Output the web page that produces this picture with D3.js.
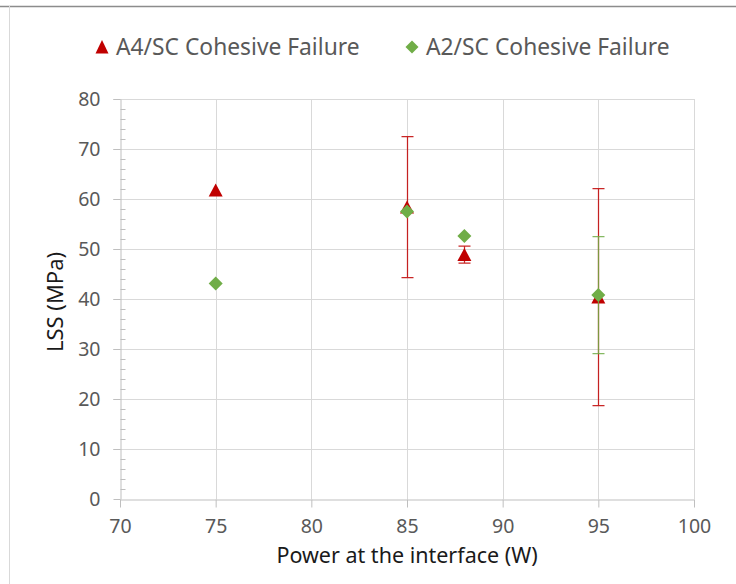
<!DOCTYPE html>
<html>
<head>
<meta charset="utf-8">
<script src="https://cdn.jsdelivr.net/npm/d3@7"></script>
<style>
  html, body { margin: 0; padding: 0; background: #fff; }
  svg { display: block; font-family: "Noto Sans", "Open Sans", sans-serif; }
</style>
</head>
<body>
<div id="chart"></div>
<script>
// ---- data ----
const powers = [75, 85, 88, 95];
const a4Mean = [61.8, 58.4, 48.9, 40.4];
const a4Err  = [0, 14.1, 1.7, 21.7];
const a2Mean = [43.1, 57.5, 52.6, 40.8];
const a2Err  = [0, 0, 0, 11.7];
const xTicks = [70, 75, 80, 85, 90, 95, 100];
const yTicks = [0, 10, 20, 30, 40, 50, 60, 70, 80];
const seriesNames = ["A4/SC Cohesive Failure", "A2/SC Cohesive Failure"];
const seriesColors = ["#c00000", "#70ad47"];

const width = 736, height = 584;
const margin = { left: 120, right: 42, top: 99, bottom: 85 };

const svg = d3.select("#chart").append("svg")
    .attr("width", width)
    .attr("height", height);

// chart frame (only top + left edges are in view)
svg.append("line").attr("x1", 0).attr("x2", width).attr("y1", 6.5).attr("y2", 6.5)
    .attr("stroke", "#8c8c8c").attr("stroke-width", 1.5);
svg.append("line").attr("x1", 9.5).attr("x2", 9.5).attr("y1", 6).attr("y2", height)
    .attr("stroke", "#d9d9d9");

const x = d3.scaleLinear().domain([70, 100]).range([margin.left, width - margin.right]);
const y = d3.scaleLinear().domain([0, 80]).range([height - margin.bottom, margin.top]);

// gridlines
const grid = svg.append("g").attr("stroke", "#d9d9d9").attr("stroke-width", 1);
grid.selectAll(".hg").data(yTicks.filter(d => d > 0)).enter().append("line")
    .attr("x1", x(70) - 7).attr("x2", x(100))
    .attr("y1", d => Math.round(y(d)) + 0.5).attr("y2", d => Math.round(y(d)) + 0.5);
grid.selectAll(".vg").data(xTicks.filter(d => d > 70)).enter().append("line")
    .attr("y1", y(80)).attr("y2", y(0))
    .attr("x1", d => Math.round(x(d)) + 0.5).attr("x2", d => Math.round(x(d)) + 0.5);

// axes
const axisColor = "#bfbfbf";
const xAxis = svg.append("g")
    .attr("transform", `translate(0,${Math.round(y(0)) + 0.5})`)
    .call(d3.axisBottom(x).tickValues(xTicks).tickSize(8).tickPadding(12).tickSizeOuter(0));
const yAxis = svg.append("g")
    .attr("transform", `translate(${Math.round(x(70)) + 0.5},0)`)
    .call(d3.axisLeft(y).tickValues(yTicks).tickSize(7).tickPadding(13).tickSizeOuter(0));
// minor y ticks, inside
svg.append("g").attr("transform", `translate(${Math.round(x(70)) + 0.5},0)`)
    .call(d3.axisRight(y).tickValues(d3.range(0, 81, 2).filter(d => d % 10 !== 0))
        .tickSize(5).tickFormat("").tickSizeOuter(0))
    .call(g => g.select(".domain").remove())
    .selectAll("line").attr("stroke", axisColor);

[xAxis, yAxis].forEach(g => {
    g.select(".domain").attr("stroke", axisColor);
    g.selectAll(".tick line").attr("stroke", axisColor);
    g.selectAll(".tick text").attr("fill", "#595959").attr("font-size", 19.5)
        .attr("font-family", "'Noto Sans', sans-serif");
});

// axis titles
svg.append("text")
    .attr("x", (x(70) + x(100)) / 2).attr("y", 563)
    .attr("text-anchor", "middle").attr("font-size", 21.5).attr("fill", "#1a1a1a")
    .text("Power at the interface (W)");
svg.append("text")
    .attr("transform", `translate(63,${(y(0) + y(80)) / 2 + 3}) rotate(-90)`)
    .attr("text-anchor", "middle").attr("font-size", 22).attr("fill", "#1a1a1a")
    .text("LSS (MPa)");

// marker shapes, centred on the point
const triangle = "M0,-6.5L7,6.5L-7,6.5Z";
const diamond = "M0,-7L7,0L0,7L-7,0Z";
const markers = [triangle, diamond];

function drawSeries(means, errs, color, shape) {
    const g = svg.append("g");
    const rows = powers.map((p, i) => ({ p, m: means[i], e: errs[i] })).filter(d => d.e > 0);
    g.selectAll(".eb").data(rows).enter().append("path")
        .attr("fill", "none").attr("stroke", color).attr("stroke-width", 1.25).attr("stroke-opacity", 0.85)
        .attr("d", d => {
            const cx = Math.round(x(d.p)) + 0.5, hi = y(d.m + d.e), lo = y(d.m - d.e);
            return `M${cx},${hi}V${lo}M${cx - 6},${hi}H${cx + 6}M${cx - 6},${lo}H${cx + 6}`;
        });
    g.selectAll(".pt").data(powers.map((p, i) => [p, means[i]])).enter().append("path")
        .attr("d", shape).attr("fill", color)
        .attr("transform", d => `translate(${x(d[0])},${y(d[1])})`);
}
drawSeries(a4Mean, a4Err, seriesColors[0], markers[0]);
drawSeries(a2Mean, a2Err, seriesColors[1], markers[1]);

// legend
const legend = svg.append("g").attr("transform", "translate(0,47)");
const legendX = [102, 412];
seriesNames.forEach((name, i) => {
    legend.append("path").attr("d", i === 0 ? "M0,-7L6.5,6.5L-6.5,6.5Z" : "M0,-6.5L6.5,0L0,6.5L-6.5,0Z")
        .attr("fill", seriesColors[i]).attr("transform", `translate(${legendX[i]},0)`);
    legend.append("text").attr("x", legendX[i] + 14).attr("y", 8)
        .attr("font-size", 22.8).attr("fill", "#595959").text(name);
});
</script>
</body>
</html>
